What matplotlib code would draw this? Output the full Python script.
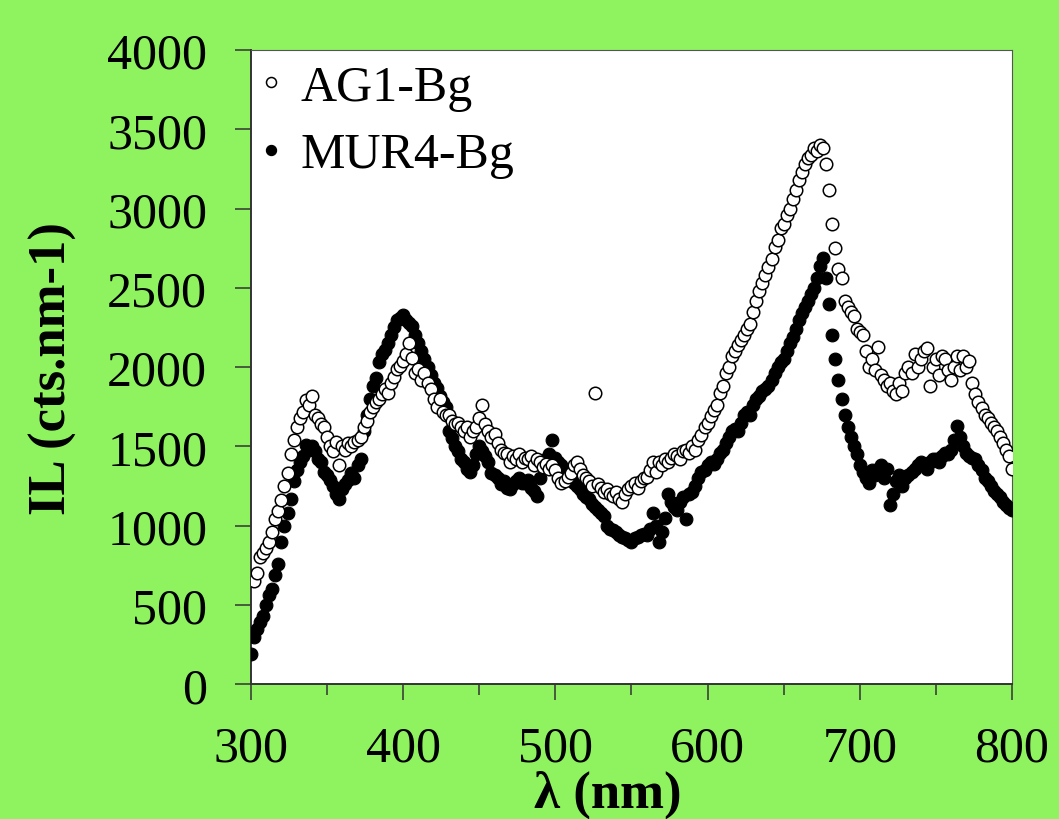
import numpy as np
import matplotlib
matplotlib.use("Agg")
import matplotlib.pyplot as plt
from matplotlib.ticker import MultipleLocator

# wavelength grid (nm), 2 nm step
wavelength = list(range(300, 801, 2))

ag1_bg = [
    670, 650, 700, 800, 830,
    860, 900, 960, 1040, 1090,
    1160, 1250, 1330, 1450, 1540,
    1620, 1680, 1720, 1790, 1760,
    1820, 1700, 1680, 1640, 1620,
    1560, 1500, 1470, 1530, 1380,
    1500, 1480, 1520, 1500, 1530,
    1540, 1560, 1620, 1660, 1720,
    1750, 1780, 1800, 1830, 1860,
    1840, 1900, 1940, 1990, 2010,
    2040, 2080, 2150, 2060, 1960,
    1990, 1920, 1960, 1900, 1860,
    1800, 1750, 1800, 1720, 1700,
    1700, 1660, 1640, 1650, 1620,
    1600, 1620, 1560, 1600, 1620,
    1680, 1760, 1640, 1600, 1560,
    1580, 1520, 1480, 1460, 1450,
    1400, 1440, 1420, 1450, 1400,
    1430, 1420, 1440, 1380, 1420,
    1400, 1370, 1390, 1360, 1380,
    1350, 1300, 1270, 1280, 1310,
    1330, 1380, 1400, 1360, 1320,
    1300, 1280, 1250, 1840, 1260,
    1240, 1210, 1230, 1200, 1190,
    1210, 1170, 1150, 1200, 1230,
    1250, 1270, 1240, 1280, 1300,
    1310, 1350, 1400, 1340, 1400,
    1380, 1420, 1400, 1430, 1450,
    1440, 1420, 1470, 1480, 1460,
    1500, 1480, 1540, 1570, 1620,
    1650, 1690, 1730, 1760, 1840,
    1880, 1960, 2000, 2070, 2100,
    2140, 2170, 2200, 2240, 2270,
    2350, 2420, 2480, 2530, 2580,
    2630, 2680, 2760, 2800, 2880,
    2900, 2960, 3000, 3060, 3120,
    3180, 3230, 3280, 3320, 3340,
    3380, 3360, 3400, 3380, 3280,
    3120, 2900, 2750, 2620, 2560,
    2420, 2380, 2350, 2320, 2240,
    2220, 2200, 2100, 2000, 2050,
    1980, 2130, 1950, 1920, 1880,
    1900, 1850, 1830, 1900, 1850,
    1960, 2000, 1960, 2080, 2000,
    2050, 2100, 2120, 1880, 2000,
    2050, 1950, 2070, 2050, 1980,
    1920, 2000, 2070, 1980, 2070,
    2000, 2040, 1900, 1830, 1780,
    1740, 1700, 1680, 1650, 1620,
    1600, 1560, 1520, 1480, 1440,
    1360,
]

mur4_bg = [
    190, 300, 350, 390, 430,
    500, 560, 600, 690, 760,
    900, 1000, 1080, 1170, 1280,
    1350, 1400, 1440, 1510, 1480,
    1500, 1470, 1420, 1400, 1340,
    1320, 1290, 1250, 1200, 1170,
    1230, 1260, 1290, 1330, 1300,
    1380, 1420, 1600, 1700, 1800,
    1880, 1930, 2030, 2080, 2110,
    2150, 2200, 2250, 2300, 2310,
    2330, 2300, 2280, 2260, 2200,
    2150, 2100, 2050, 2000, 1950,
    1900, 1870, 1820, 1780, 1750,
    1600, 1550, 1500, 1470, 1420,
    1400, 1360, 1340, 1380, 1450,
    1500, 1470, 1440, 1400, 1330,
    1320, 1300, 1260, 1280, 1240,
    1230, 1260, 1280, 1300, 1270,
    1270, 1290, 1240, 1220, 1190,
    1300, 1380, 1420, 1450, 1540,
    1430, 1400, 1380, 1340, 1310,
    1290, 1270, 1250, 1230, 1200,
    1180, 1170, 1140, 1120, 1100,
    1080, 1060, 1000, 980, 970,
    960, 940, 930, 920, 910,
    900, 920, 930, 940, 950,
    940, 980, 1080, 1000, 900,
    960, 1050, 1200, 1150, 1120,
    1100, 1150, 1180, 1040, 1200,
    1210, 1250, 1300, 1340, 1350,
    1380, 1400, 1390, 1420, 1460,
    1480, 1520, 1560, 1600, 1610,
    1600, 1650, 1700, 1720, 1700,
    1760, 1800, 1820, 1850, 1860,
    1880, 1920, 1960, 2000, 2030,
    2050, 2100, 2150, 2190, 2240,
    2300, 2340, 2380, 2420, 2460,
    2500, 2560, 2640, 2690, 2560,
    2400, 2200, 2050, 1920, 1800,
    1700, 1620, 1560, 1500, 1450,
    1380, 1340, 1300, 1270, 1350,
    1320, 1360, 1380, 1300, 1360,
    1130, 1200, 1280, 1320, 1250,
    1300, 1320, 1340, 1360, 1380,
    1400, 1380, 1360, 1400, 1420,
    1420, 1400, 1440, 1460, 1450,
    1480, 1540, 1630, 1560, 1500,
    1460, 1440, 1430, 1420, 1380,
    1350, 1300, 1280, 1250, 1220,
    1200, 1180, 1150, 1130, 1110,
    1100,
]

series_labels = ["AG1-Bg", "MUR4-Bg"]
x_label = "λ (nm)"
y_label = "IL (cts.nm-1)"

BG = "#8FF25F"
plt.rcParams["font.family"] = ["Liberation Serif", "DejaVu Serif"]

fig = plt.figure(figsize=(10.59, 8.2), dpi=100, facecolor=BG)
ax = fig.add_axes([0.237, 0.1643, 0.7186, 0.7735])
ax.set_facecolor("white")

ax.plot(wavelength, mur4_bg, linestyle="none", marker="o", markersize=9.2,
        markerfacecolor="black", markeredgecolor="black", markeredgewidth=0.8,
        label=series_labels[1], zorder=3)
ax.plot(wavelength, ag1_bg, linestyle="none", marker="o", markersize=9.0,
        markerfacecolor="white", markeredgecolor="black", markeredgewidth=1.1,
        label=series_labels[0], zorder=4)

ax.set_xlim(300, 800)
ax.set_ylim(0, 4000)
ax.xaxis.set_major_locator(MultipleLocator(100))
ax.xaxis.set_minor_locator(MultipleLocator(50))
ax.yaxis.set_major_locator(MultipleLocator(500))

ax.tick_params(axis="both", which="major", direction="out", length=11.5,
               width=1.1, labelsize=36, color="#333333")
ax.tick_params(axis="x", which="minor", direction="out", length=8, width=1.1,
               color="#333333")
ax.tick_params(axis="y", which="major", pad=20)
ax.tick_params(axis="x", which="major", pad=18)

for s in ["left", "bottom"]:
    ax.spines[s].set_color("#333333")
    ax.spines[s].set_linewidth(1.4)
for s in ["top", "right"]:
    ax.spines[s].set_color("#555555")
    ax.spines[s].set_linewidth(0.8)

ax.set_xlabel(x_label, fontsize=38, fontweight="bold")
ax.xaxis.set_label_coords(0.469, -0.135)
ax.set_ylabel(y_label, fontsize=38, fontweight="bold", labelpad=22)

handles, labels = ax.get_legend_handles_labels()
order = [1, 0]
leg = ax.legend([handles[i] for i in order], [labels[i] for i in order],
                loc="upper left", frameon=False, fontsize=36, markerscale=0.8,
                handlelength=0.6, handletextpad=0.3, labelspacing=0.42,
                borderaxespad=0.0, bbox_to_anchor=(-0.02, 1.009))

fig.savefig("out.png", dpi=100, facecolor=BG)
